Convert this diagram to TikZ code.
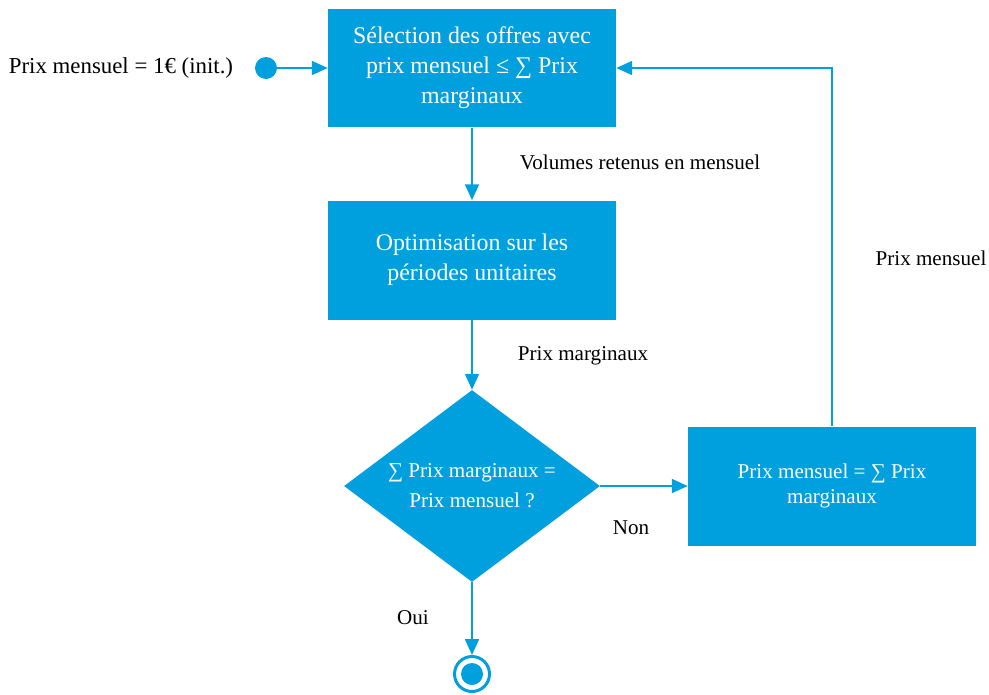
\documentclass[tikz,border=0pt]{standalone}
\usepackage{fontspec}
\setmainfont{Liberation Serif}
\usetikzlibrary{arrows.meta,shapes.geometric}
\definecolor{flowblue}{RGB}{0,160,222}

\tikzset{
  procbox/.style={fill=flowblue,text=white,minimum width=5.76cm,minimum height=2.38cm,align=center,inner sep=0pt},
  bigtext/.style={font=\fontsize{13.6}{17}\selectfont},
  testbox/.style={diamond,aspect=1.333,fill=flowblue,text=white,minimum width=5.12cm,minimum height=3.84cm,align=center,inner sep=0pt},
  flowline/.style={draw=flowblue,line width=0.75pt,-{Triangle[length=9pt,width=8pt]}},
}

\begin{document}
\begin{tikzpicture}[x=0.02cm,y=-0.02cm,font=\fontsize{12}{17}\selectfont]
\useasboundingbox (0,0) rectangle (989,694);

\node[procbox,bigtext] (select) at (472,68) {Sélection des offres avec\\prix mensuel ≤ ∑ Prix\\marginaux};
\node[procbox,bigtext] (optim) at (472,260) {Optimisation sur les\\périodes unitaires};
\node[testbox] (test) at (472,486) {∑ Prix marginaux =\\Prix mensuel ?};
\node[procbox,font=\fontsize{12}{14.7}\selectfont] (update) at (832,486) {Prix mensuel = ∑ Prix\\marginaux};

\node[circle,fill=flowblue,minimum size=0.44cm,inner sep=0pt] (start) at (266,68) {};
\node[circle,draw=flowblue,line width=1.7pt,minimum size=0.7cm,inner sep=0pt] (stop) at (472,674) {};
\node[circle,fill=flowblue,minimum size=0.44cm,inner sep=0pt] (stopdot) at (stop) {};

\draw[flowline] (start) -- (select);
\draw[flowline] (select) -- (optim);
\draw[flowline] (optim) -- (test);
\draw[flowline] (test) -- (update);
\draw[flowline] (update.north) |- (select.east);
\draw[flowline] (test) -- (stop);

\node[font=\fontsize{13}{17}\selectfont] (init) at (121,68) {Prix mensuel = 1€ (init.)};
\node (volumes) at (640,162) {Volumes retenus en mensuel};
\node (marg) at (583,356) {Prix marginaux};
\node (feedback) at (931,258) {Prix mensuel};
\node (non) at (631,528) {Non};
\node (oui) at (413,618) {Oui};
\end{tikzpicture}
\end{document}
